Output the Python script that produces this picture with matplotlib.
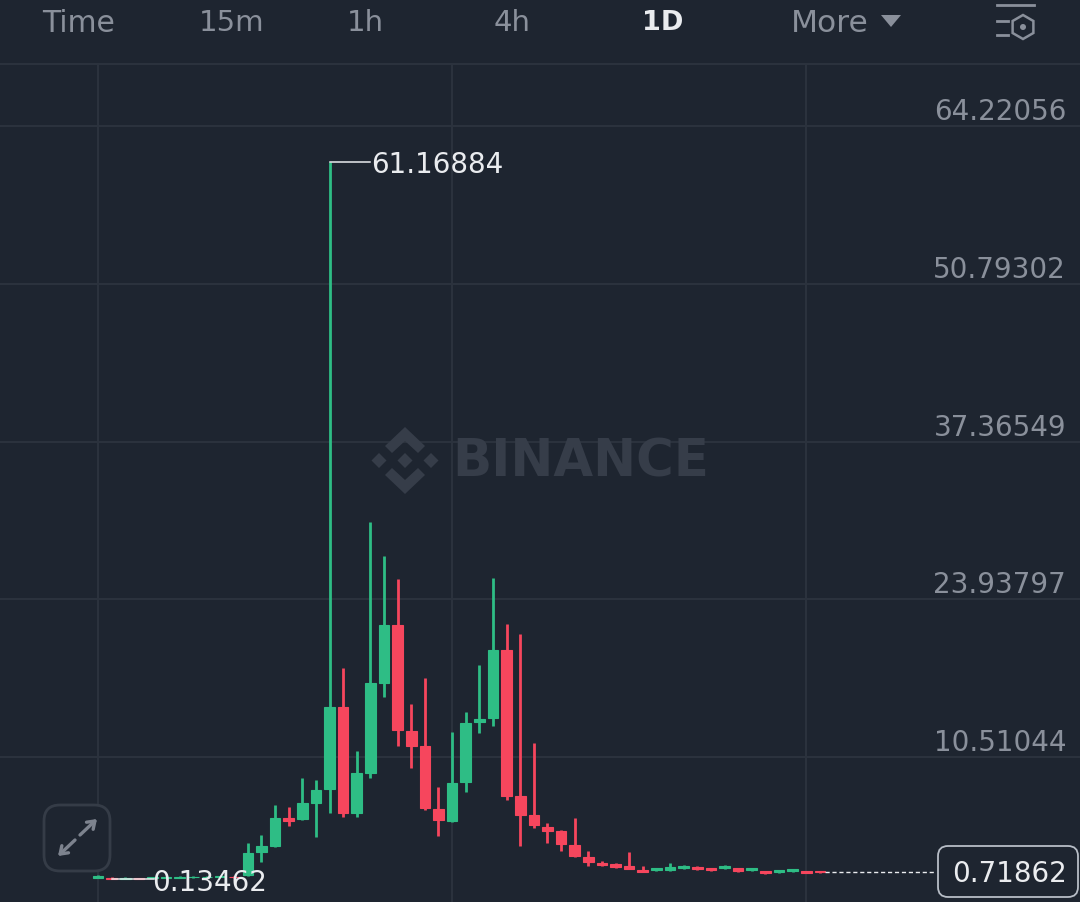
import matplotlib
matplotlib.use("Agg")
import matplotlib.pyplot as plt
from matplotlib.lines import Line2D
from matplotlib.patches import FancyBboxPatch, Polygon, RegularPolygon, Circle

# daily candles, oldest first
opens = [0.25, 0.24, 0.17, 0.22, 0.20, 0.24, 0.24, 0.26, 0.27, 0.28, 0.34, 0.47, 2.42, 2.93, 5.32, 5.23, 6.59,
         7.79, 14.77, 5.74, 9.15, 16.81, 21.75, 12.72, 11.45, 6.08, 5.06, 8.38, 13.49, 13.83, 19.62, 7.19, 5.57,
         4.55, 4.21, 3.02, 2.00, 1.49, 1.40, 1.23, 0.93, 0.89, 0.89, 1.06, 1.15, 1.06, 1.06, 1.06, 0.89, 0.81,
         0.72, 0.81, 0.81, 0.80]
highs = [0.47, 0.27, 0.28, 0.25, 0.33, 0.34, 0.36, 0.37, 0.36, 0.38, 0.37, 3.19, 3.87, 6.42, 6.25, 8.72, 8.55,
         61.16884, 18.09, 11.02, 30.51, 27.62, 25.66, 15.02, 17.23, 7.96, 12.64, 14.34, 18.34, 25.75, 21.83, 20.98,
         11.70, 4.89, 4.29, 5.32, 2.51, 1.66, 1.45, 2.42, 1.23, 1.10, 1.49, 1.28, 1.20, 1.10, 1.28, 1.10, 1.10,
         0.85, 0.93, 1.02, 0.85, 0.84]
lows = [0.21, 0.13462, 0.15, 0.14, 0.18, 0.20, 0.22, 0.24, 0.25, 0.26, 0.23, 0.38, 1.57, 2.85, 4.64, 5.15, 3.70,
        5.74, 5.40, 5.40, 8.72, 15.62, 11.45, 9.57, 6.00, 3.79, 5.02, 7.53, 12.55, 13.15, 6.85, 2.93,
        4.47, 3.19, 2.51, 2.00, 1.23, 1.23, 1.10, 0.95, 0.72, 0.85, 0.81, 1.00, 0.93, 0.85, 1.02, 0.76, 0.85,
        0.58, 0.68, 0.76, 0.60, 0.68]
closes = [0.38, 0.16, 0.24, 0.15, 0.28, 0.30, 0.32, 0.33, 0.33, 0.35, 0.26, 2.34, 2.93, 5.32, 5.06, 6.59, 7.70,
          14.77, 5.74, 9.15, 16.81, 21.75, 12.81, 11.45, 6.17, 5.15, 8.30, 13.40, 13.74, 19.62, 7.19, 5.57, 4.72,
          4.21, 3.10, 2.08, 1.57, 1.32, 1.15, 0.98, 0.76, 1.06, 1.15, 1.23, 0.98, 0.89, 1.23, 0.81, 1.06, 0.64,
          0.89, 0.98, 0.64, 0.71862]

price_ticks = [64.22056, 50.79302, 37.36549, 23.93797, 10.51044]
time_ticks = [0, 26, 52]
tabs = ["Time", "15m", "1h", "4h", "1D", "More"]
high_label = 61.16884
low_label = 0.13462
last_price = 0.71862

BG = "#1e2530"
GRID = "#2c333e"
GREEN = "#2ebd85"
RED = "#f6465d"
MUTED = "#8a909b"
WHITE = "#eaecef"
FONT = "DejaVu Sans"

fig = plt.figure(figsize=(10.8, 9.03), dpi=100, facecolor=BG)

ax = fig.add_axes([0, 0, 1, 838 / 903], facecolor=BG)
ax.set_xlim(-7.195, 72.1)
ax.set_ylim(-1.83, 69.50)
ax.set_xticks(time_ticks)
ax.set_yticks(price_ticks)
ax.grid(True, color=GRID, linewidth=1.4)
ax.tick_params(left=False, bottom=False, labelleft=False, labelbottom=False)
ax.set_axisbelow(True)
for side in ax.spines.values():
    side.set_visible(False)

xs = list(range(len(opens)))
colors = [GREEN if c >= o else RED for o, c in zip(opens, closes)]
ax.vlines(xs, lows, highs, colors=colors, linewidth=2.0, zorder=3)
ax.bar(xs, [c - o for o, c in zip(opens, closes)], bottom=opens, width=0.78, color=colors,
       edgecolor=colors, linewidth=0.8, zorder=3)

for p in price_ticks:
    ax.annotate(f"{p:.5f}", (1066 / 13.62 - 7.195, p), xytext=(0, 15), textcoords="offset pixels",
                ha="right", va="center", color=MUTED, fontsize=20, family=FONT)

# high / low markers
peak = highs.index(high_label)
ax.plot([peak, peak + 3.0], [high_label, high_label], color=WHITE, linewidth=1.1, zorder=4)
ax.annotate(f"{high_label:.5f}", (peak + 3.05, high_label), xytext=(0, -2), textcoords="offset pixels",
            va="center", ha="left", color=WHITE, fontsize=20, family=FONT, zorder=5)
bottom = lows.index(low_label)
ax.plot([bottom, bottom + 3.1], [low_label, low_label], color=WHITE, linewidth=1.1, zorder=4)
ax.annotate(f"{low_label:.5f}", (bottom + 3.0, low_label), xytext=(0, -3), textcoords="offset pixels",
            va="center", ha="left", color=WHITE, fontsize=20, family=FONT, zorder=5)

# last price
ax.plot([len(opens) - 1 + 0.4, 61.5], [last_price, last_price], color=WHITE, linewidth=1.0,
        linestyle=(0, (3, 2)), zorder=4)

# overlay in pixel coordinates for header, watermark, icons
ov = fig.add_axes([0, 0, 1, 1], facecolor="none")
ov.set_xlim(0, 1080)
ov.set_ylim(903, 0)
ov.axis("off")

ov.add_line(Line2D([0, 1080], [65, 65], color=GRID, linewidth=1.4))

tab_x = [79, 232, 365, 512, 663, 830]
tab_size = [21.5, 21, 21, 21, 19.5, 22.5]
for name, x, size in zip(tabs, tab_x, tab_size):
    active = name == "1D"
    ov.text(x, 23, name, ha="center", va="center", fontsize=size, family=FONT,
            color=WHITE if active else MUTED, fontweight="bold" if active else "normal")
ov.add_patch(Polygon([(881, 16), (901, 16), (891, 28)], closed=True, color=MUTED, lw=0))

# settings icon
ov.add_line(Line2D([997, 1034], [6, 6], color=MUTED, linewidth=2))
ov.add_line(Line2D([997, 1008], [22, 22], color=MUTED, linewidth=2))
ov.add_line(Line2D([997, 1008], [36, 36], color=MUTED, linewidth=2))
ov.add_patch(RegularPolygon((1023, 28), 6, radius=12, fill=False, edgecolor=MUTED, linewidth=1.8))
ov.add_patch(Circle((1023, 28), 3, color=MUTED, lw=0))

# watermark
MARK = "#363d49"
ov.text(452, 463, "BINANCE", ha="left", va="center", fontsize=37, fontweight="bold", color=MARK,
        family=FONT, zorder=1)
for cx, cy in [(405, 461.5), (379, 461.5), (431, 461.5)]:
    ov.add_patch(Polygon([(cx - 7.5, cy), (cx, cy - 7.5), (cx + 7.5, cy), (cx, cy + 7.5)], color=MARK, lw=0))
ov.add_patch(Polygon([(405, 428), (425, 447), (418, 454), (405, 442), (392, 454), (385, 447)], color=MARK, lw=0))
ov.add_patch(Polygon([(405, 495), (425, 476), (418, 469), (405, 481), (392, 469), (385, 476)], color=MARK, lw=0))

# expand button
ov.add_patch(FancyBboxPatch((56, 818), 42, 42, boxstyle="round,pad=12,rounding_size=16",
                            facecolor=BG, edgecolor="#353c47", linewidth=2, zorder=2))
ov.annotate("", xy=(97, 820), xytext=(80, 836), zorder=3,
            arrowprops=dict(arrowstyle="->,head_length=0.5,head_width=0.35", color="#7d838e", lw=2.4,
                            shrinkA=0, shrinkB=0))
ov.annotate("", xy=(58, 857), xytext=(75, 841), zorder=3,
            arrowprops=dict(arrowstyle="->,head_length=0.5,head_width=0.35", color="#7d838e", lw=2.4,
                            shrinkA=0, shrinkB=0))

# last price box
ov.add_patch(FancyBboxPatch((946, 855), 124, 35, boxstyle="round,pad=8,rounding_size=10",
                            facecolor=BG, edgecolor="#b7bdc6", linewidth=1.3, zorder=4))
ov.text(1009, 874, f"{last_price:.5f}", ha="center", va="center", color=WHITE, fontsize=20, family=FONT, zorder=5)

fig.savefig("out.png", dpi=100, facecolor=BG)
plt.close()
